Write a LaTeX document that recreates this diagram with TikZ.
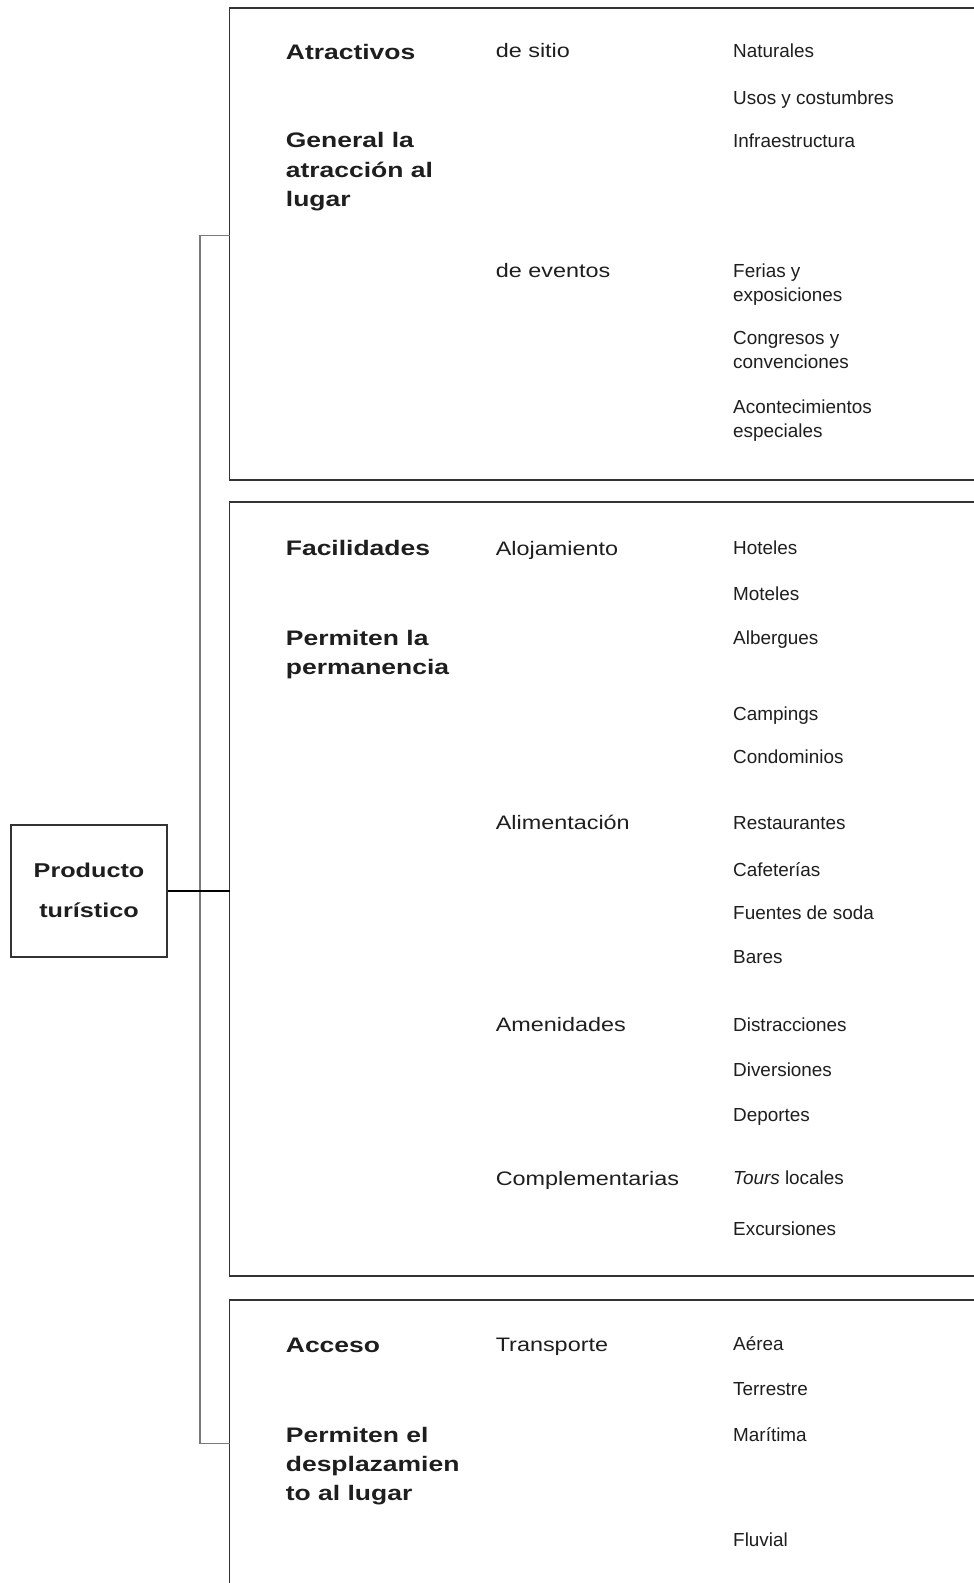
\documentclass[tikz,border=0pt]{standalone}
\usepackage{fontspec}
\setmainfont{Liberation Sans}
\newfontfamily\headfont{Liberation Sans}[FakeStretch=1.26]
\newfontfamily\subfont{Liberation Sans}[FakeStretch=1.2]
\newfontfamily\itemfont{Liberation Sans}
\definecolor{ink}{HTML}{1E1E1E}
\definecolor{boxline}{HTML}{333333}
\definecolor{brline}{HTML}{7A7A7A}
\begin{document}
\begin{tikzpicture}[x=1pt,y=-1pt,
  head/.style={anchor=base west,inner sep=0pt,align=left,text=ink,
    font=\headfont\bfseries\fontsize{21}{29.3}\selectfont},
  sub/.style={anchor=base west,inner sep=0pt,text=ink,
    font=\subfont\fontsize{19.5}{24}\selectfont},
  item/.style={anchor=base west,inner sep=0pt,align=left,text=ink,
    font=\itemfont\fontsize{18.9}{24.2}\selectfont},
  boxpath/.style={draw=boxline,line width=1.3pt},
  brpath/.style={draw=brline,line width=1.2pt}]
\useasboundingbox (0,0) rectangle (974,1583);
\fill[white] (0,0) rectangle (974,1583);

% group frames (open on the right)
\coordinate (b1t) at (229.5,8);
\coordinate (b1b) at (229.5,480);
\coordinate (b2t) at (229.5,502);
\coordinate (b2b) at (229.5,1276);
\coordinate (b3t) at (229.5,1300);
\coordinate (b1in) at (229.5,235.7);
\coordinate (b2in) at (229.5,891);
\coordinate (b3in) at (229.5,1443.3);
\draw[boxpath] (974,8) -- (b1t) -- (b1b) -- (974,480);
\draw[boxpath] (974,502) -- (b2t) -- (b2b) -- (974,1276);
\draw[boxpath] (974,1300) -- (b3t) -- (229.5,1590);

% bracket
\coordinate (brt) at (200,235.7);
\coordinate (brb) at (200,1443.3);
\draw[brpath] (b1in) -- (brt) -- (brb) -- (b3in);

% root
\node[draw=boxline,line width=1.2pt,minimum width=156pt,minimum height=132pt,inner sep=0pt] (prod) at (89,891) {};
\node[anchor=base,inner sep=0pt,text=ink,font=\headfont\bfseries\fontsize{20}{40}\selectfont] (prod1) at (89,877.7) {Producto};
\node[anchor=base,inner sep=0pt,text=ink,font=\headfont\bfseries\fontsize{20}{40}\selectfont] (prod2) at (89,917.7) {turístico};
\draw[black,line width=1.4pt] (prod.east) -- (b2in);

% group 1 (multi-line nodes are placed by the baseline of their last line)
\node[head] (h1) at (285.7,59) {Atractivos};
\node[head] (h1d) at (285.7,206.4) {General la\\atracción al\\lugar};
\node[sub] (s11) at (495.6,57.5) {de sitio};
\node[sub] (s12) at (495.6,277.5) {de eventos};
\node[item] (i1) at (733,57.2) {Naturales};
\node[item] (i2) at (733,104.6) {Usos y costumbres};
\node[item] (i3) at (733,147) {Infraestructura};
\node[item] (i4) at (733,301.4) {Ferias y\\exposiciones};
\node[item] (i5) at (733,368.9) {Congresos y\\convenciones};
\node[item] (i6) at (733,437.7) {Acontecimientos\\especiales};

% group 2
\node[head] (h2) at (285.7,555.5) {Facilidades};
\node[head] (h2d) at (285.7,674.8) {Permiten la\\permanencia};
\node[sub] (s21) at (495.6,555) {Alojamiento};
\node[sub] (s22) at (495.6,829.7) {Alimentación};
\node[sub] (s23) at (495.6,1031.5) {Amenidades};
\node[sub] (s24) at (495.6,1185.7) {Complementarias};
\node[item] (j1) at (733,554.7) {Hoteles};
\node[item] (j2) at (733,600.2) {Moteles};
\node[item] (j3) at (733,644.7) {Albergues};
\node[item] (j4) at (733,720.3) {Campings};
\node[item] (j5) at (733,763.7) {Condominios};
\node[item] (j6) at (733,829.4) {Restaurantes};
\node[item] (j7) at (733,876.7) {Cafeterías};
\node[item] (j8) at (733,919.2) {Fuentes de soda};
\node[item] (j9) at (733,963.7) {Bares};
\node[item] (j10) at (733,1031.2) {Distracciones};
\node[item] (j11) at (733,1076.7) {Diversiones};
\node[item] (j12) at (733,1121) {Deportes};
\node[item] (j13) at (733,1184.3) {\textit{Tours} locales};
\node[item] (j14) at (733,1235) {Excursiones};

% group 3
\node[head] (h3) at (285.7,1352) {Acceso};
\node[head] (h3d) at (285.7,1500.6) {Permiten el\\desplazamien\\to al lugar};
\node[sub] (s31) at (495.6,1351.7) {Transporte};
\node[item] (k1) at (733,1350) {Aérea};
\node[item] (k2) at (733,1395.7) {Terrestre};
\node[item] (k3) at (733,1441) {Marítima};
\node[item] (k4) at (733,1546) {Fluvial};
\end{tikzpicture}
\end{document}
